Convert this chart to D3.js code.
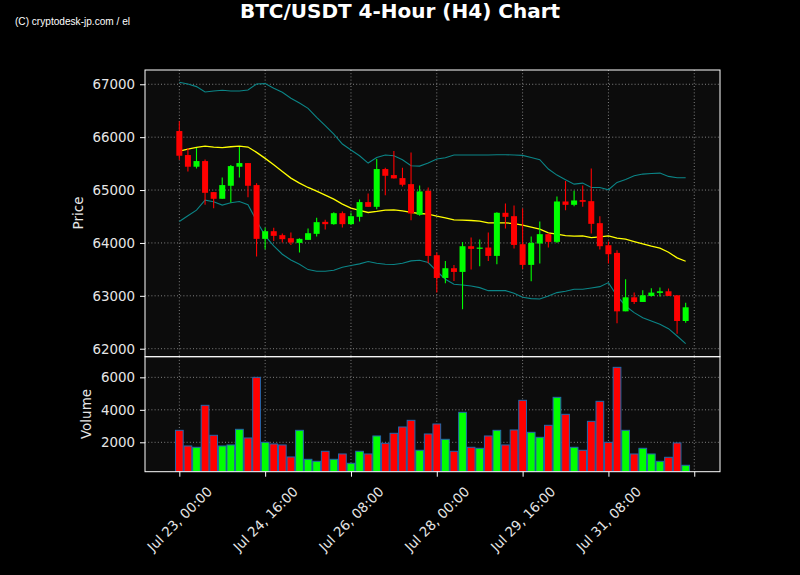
<!DOCTYPE html>
<html><head><meta charset="utf-8">
<script src="https://cdn.jsdelivr.net/npm/d3@7/dist/d3.min.js"></script>
<style>html,body{margin:0;padding:0;background:#000;}svg{display:block}</style>
</head><body>
<svg id="c" width="800" height="575"></svg>
<script>
// ---------------- DATA ----------------
const titleText = "BTC/USDT 4-Hour (H4) Chart";
const watermark = "(C) cryptodesk-jp.com / el";

const open = [66116,65662,65441,65548,64961,64835,65081,65441,65510,65094,
  64077,64222,64147,64090,64001,64058,64172,64399,64355,64563,
  64355,64494,64772,64683,65397,65283,65226,65112,64532,64986,
  63768,63338,63522,63452,63938,63888,63913,63755,64570,64506,
  63976,63585,63989,64166,64020,64784,64721,64810,64790,64374,
  63957,63812,62707,62972,62884,62998,63055,63086,63010,62524];
const high = [66299,65794,65794,65580,64961,65239,65472,65813,65510,65131,
  64285,64285,64178,64197,64090,64273,64475,64437,64582,64595,
  64576,64822,64936,65586,65420,65737,65422,65712,65087,65049,
  63818,63660,63585,64020,64102,64065,64197,64580,64746,64708,
  64652,64121,64405,64184,64879,65169,64986,65087,65409,64506,
  64027,63863,63313,63061,63105,63143,63156,63137,63010,62871];
const low = [65573,65352,65409,64721,64658,64835,64765,65239,64866,63742,
  63881,64039,64008,63963,63818,64058,64121,64254,64342,64292,
  64342,64405,64683,64639,64904,65220,65068,64431,64513,63616,
  63061,63237,63282,62745,63496,63559,63660,63597,64273,63894,
  63509,63275,63610,63913,64001,64620,64696,64683,64178,63875,
  63610,62480,62707,62846,62884,62985,62985,62998,62284,62493];
const close = [65649,65441,65548,64948,64835,65094,65453,65510,65081,64077,
  64222,64134,64071,64008,64077,64184,64393,64355,64563,64355,
  64506,64772,64683,65397,65270,65220,65100,64557,64974,63755,
  63338,63522,63452,63938,63888,63913,63755,64570,64494,63963,
  63585,64001,64166,64020,64784,64721,64803,64778,64361,63938,
  63787,62707,62972,62884,63010,63061,63086,62998,62524,62783];
const volume = [2738,1774,1692,4277,2431,1774,1836,2800,2267,6000,
  2000,1897,1836,1097,2738,954,831,1446,954,1282,
  708,1446,1282,2390,1938,2554,2943,3354,1508,2513,
  3128,2185,1446,3846,1692,1631,2390,2738,1836,2759,
  4584,2615,2308,3046,4769,3723,1692,1508,3292,4523,
  2000,6615,2738,1282,1631,1282,831,1077,1959,585];
const sma = [65737,65775,65807,65832,65813,65801,65819,65832,65813,65712,
  65599,65479,65352,65226,65131,65049,64980,64904,64828,64734,
  64658,64614,64576,64595,64620,64626,64607,64576,64557,64544,
  64506,64475,64437,64431,64424,64412,64380,64380,64380,64367,
  64336,64298,64260,64191,64166,64140,64128,64134,64102,64115,
  64134,64090,64071,64027,63982,63938,63900,63825,63717,63654];
const upperBand = [67038,67006,66956,66855,66874,66886,66874,66874,66893,67006,
  67013,66924,66848,66735,66646,66545,66375,66217,66059,65870,
  65756,65649,65510,65617,65662,65649,65573,65460,65453,65510,
  65586,65611,65662,65662,65662,65662,65662,65668,65668,65662,
  65655,65617,65573,65397,65283,65194,65112,65131,65049,65049,
  65005,65144,65201,65270,65302,65314,65321,65258,65232,65232];
const lowerBand = [64405,64513,64620,64809,64778,64715,64759,64784,64721,64418,
  64134,63945,63787,63679,63597,63496,63465,63465,63484,63540,
  63572,63604,63648,63616,63597,63591,63616,63661,63673,63629,
  63465,63313,63218,63206,63187,63155,63098,63098,63098,63048,
  62972,62947,62941,62998,63061,63086,63124,63124,63149,63174,
  63250,62998,62808,62682,62587,62524,62461,62379,62240,62095];

const priceTicks = [62000,63000,64000,65000,66000,67000];
const volumeTicks = [2000,4000,6000];
const xTickIndex = [0,10,20,30,40,50,60];
const xTickLabels = ["Jul 23, 00:00","Jul 24, 16:00","Jul 26, 08:00","Jul 28, 00:00","Jul 29, 16:00","Jul 31, 08:00",""];

// ---------------- LAYOUT ----------------
const W = 800, H = 575;
const L = 145, R = 720, pTop = 70, pBot = 356.7, vTop = 356.7, vBot = 471.7;
const FONT = "'DejaVu Sans', sans-serif";
const TXT = "#e6e6e6";
const UP = "#00ff00", DOWN = "#ff0000";

const idx = d3.range(open.length);
const x = d3.scaleLinear().domain([-4, 63]).range([L, R]);
const y = d3.scaleLinear().domain([61849, 67270]).range([pBot, pTop]);
const yv = d3.scaleLinear().domain([190, 7270]).range([vBot, vTop]);
const step = x(1) - x(0);

const svg = d3.select("#c");
svg.append("rect").attr("width", W).attr("height", H).attr("fill", "#000");

const defs = svg.append("defs");
defs.append("clipPath").attr("id", "cp").append("rect").attr("x", L).attr("y", pTop).attr("width", R - L).attr("height", pBot - pTop);
defs.append("clipPath").attr("id", "cv").append("rect").attr("x", L).attr("y", vTop).attr("width", R - L).attr("height", vBot - vTop);

svg.append("rect").attr("x", L).attr("y", pTop).attr("width", R - L).attr("height", pBot - pTop).attr("fill", "#0c0c0c");
svg.append("rect").attr("x", L).attr("y", vTop).attr("width", R - L).attr("height", vBot - vTop).attr("fill", "#0c0c0c");

const gridStyle = g => g.attr("stroke", "#a8a8a8").attr("stroke-width", 0.9).attr("stroke-dasharray", "1,2.2").attr("opacity", 0.85);
const gp = svg.append("g").attr("clip-path", "url(#cp)");
gp.selectAll("line.h").data(priceTicks).join("line").attr("class", "h")
  .attr("x1", L).attr("x2", R).attr("y1", d => y(d)).attr("y2", d => y(d)).call(gridStyle);
gp.selectAll("line.v").data(xTickIndex).join("line").attr("class", "v")
  .attr("x1", d => x(d)).attr("x2", d => x(d)).attr("y1", pTop).attr("y2", pBot).call(gridStyle);
const gv = svg.append("g").attr("clip-path", "url(#cv)");
gv.selectAll("line.h").data(volumeTicks).join("line").attr("class", "h")
  .attr("x1", L).attr("x2", R).attr("y1", d => yv(d)).attr("y2", d => yv(d)).call(gridStyle);
gv.selectAll("line.v").data(xTickIndex).join("line").attr("class", "v")
  .attr("x1", d => x(d)).attr("x2", d => x(d)).attr("y1", vTop).attr("y2", vBot).call(gridStyle);

const line = arr => d3.line().x((d, i) => x(i)).y(d => y(d))(arr);
gp.append("path").attr("d", line(upperBand)).attr("fill", "none").attr("stroke", "#0b8587").attr("stroke-width", 1.1);
gp.append("path").attr("d", line(lowerBand)).attr("fill", "none").attr("stroke", "#0b8587").attr("stroke-width", 1.1);
gp.append("path").attr("d", line(sma)).attr("fill", "none").attr("stroke", "#ffff00").attr("stroke-width", 1.3);

const col = i => close[i] >= open[i] ? UP : DOWN;
const bw = step * 0.7;
gp.selectAll("line.wick").data(idx).join("line").attr("class", "wick")
  .attr("x1", i => x(i)).attr("x2", i => x(i))
  .attr("y1", i => y(high[i])).attr("y2", i => y(low[i]))
  .attr("stroke", col).attr("stroke-width", 1.1);
gp.selectAll("rect.body").data(idx).join("rect").attr("class", "body")
  .attr("x", i => x(i) - bw / 2).attr("width", bw)
  .attr("y", i => y(Math.max(open[i], close[i])))
  .attr("height", i => Math.max(1, Math.abs(y(open[i]) - y(close[i]))))
  .attr("fill", col);

const vw = step * 0.9;
gv.selectAll("rect.vol").data(idx).join("rect").attr("class", "vol")
  .attr("x", i => x(i) - vw / 2).attr("width", vw)
  .attr("y", i => yv(volume[i])).attr("height", i => vBot - yv(volume[i]))
  .attr("fill", col).attr("stroke", "#2368ad").attr("stroke-width", 1);

svg.append("rect").attr("x", L).attr("y", pTop).attr("width", R - L).attr("height", pBot - pTop)
  .attr("fill", "none").attr("stroke", "#ffffff").attr("stroke-width", 1);
svg.append("rect").attr("x", L).attr("y", vTop).attr("width", R - L).attr("height", vBot - vTop)
  .attr("fill", "none").attr("stroke", "#ffffff").attr("stroke-width", 1);

const styleAxis = g => {
  g.select(".domain").remove();
  g.selectAll(".tick line").attr("stroke", "#ffffff");
  g.selectAll(".tick text").attr("fill", TXT).attr("font-family", FONT).attr("font-size", "13.4px");
};
svg.append("g").attr("transform", `translate(${L},0)`)
  .call(d3.axisLeft(y).tickValues(priceTicks).tickFormat(d3.format("d")).tickSize(5).tickPadding(5))
  .call(styleAxis);
svg.append("g").attr("transform", `translate(${L},0)`)
  .call(d3.axisLeft(yv).tickValues(volumeTicks).tickFormat(d3.format("d")).tickSize(5).tickPadding(5))
  .call(styleAxis);
const xa = svg.append("g").attr("transform", `translate(0,${vBot})`)
  .call(d3.axisBottom(x).tickValues(xTickIndex).tickFormat((d, i) => xTickLabels[i]).tickSize(5))
  .call(styleAxis);
xa.selectAll(".tick text").each(function () {
  const t = d3.select(this);
  const len = this.getComputedTextLength();
  const h = 13;
  const half = (len + h) / (2 * Math.SQRT2);
  t.attr("text-anchor", "middle").attr("dy", null).attr("y", null)
    .attr("dominant-baseline", "central")
    .attr("transform", `translate(0,${13 + half}) rotate(-45)`);
});

svg.append("text").attr("transform", "translate(82.5,213) rotate(-90)")
  .attr("text-anchor", "middle").attr("fill", TXT).attr("font-family", FONT).attr("font-size", "13.5px").text("Price");
svg.append("text").attr("transform", "translate(90.5,414) rotate(-90)")
  .attr("text-anchor", "middle").attr("fill", TXT).attr("font-family", FONT).attr("font-size", "13.5px").text("Volume");

svg.append("text").attr("x", 400).attr("y", 18).attr("text-anchor", "middle")
  .attr("fill", "#ffffff").attr("font-family", FONT).attr("font-weight", "bold").attr("font-size", "20px").text(titleText);
svg.append("text").attr("x", 15).attr("y", 25)
  .attr("fill", "#ffffff").attr("font-family", "'Liberation Sans', Arial, sans-serif").attr("font-size", "10.5px")
  .attr("textLength", 115).attr("lengthAdjust", "spacingAndGlyphs").text(watermark);
</script>
</body></html>
